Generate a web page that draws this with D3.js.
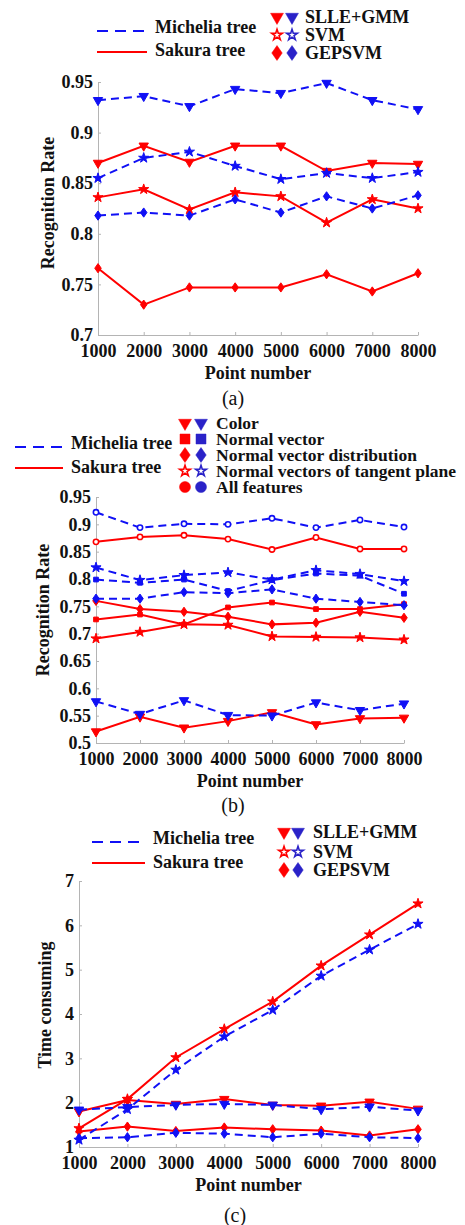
<!DOCTYPE html>
<html>
<head>
<meta charset="utf-8">
<script src="https://cdn.jsdelivr.net/npm/d3@7"></script>
<style>
  body { margin: 0; background: #fff; }
  text { font-family: "Liberation Serif", "Times New Roman", serif; }
</style>
</head>
<body>
<div id="chart"></div>
<script>
// point counts (x axis, same for all three panels)
var points = [1000, 2000, 3000, 4000, 5000, 6000, 7000, 8000];

// (a) recognition rate
var aMichSLLE = [0.932, 0.936, 0.926, 0.943, 0.939, 0.949, 0.932, 0.923];
var aSakSLLE  = [0.870, 0.887, 0.871, 0.887, 0.887, 0.862, 0.870, 0.869];
var aMichSVM  = [0.855, 0.875, 0.881, 0.867, 0.854, 0.860, 0.855, 0.861];
var aSakSVM   = [0.836, 0.844, 0.824, 0.841, 0.837, 0.811, 0.834, 0.825];
var aMichGEP  = [0.818, 0.821, 0.818, 0.834, 0.821, 0.837, 0.825, 0.838];
var aSakGEP   = [0.766, 0.730, 0.747, 0.747, 0.747, 0.760, 0.743, 0.761];
var aTicks = [0.7, 0.75, 0.8, 0.85, 0.9, 0.95];

// (b) recognition rate per feature
var bMichColor = [0.576, 0.553, 0.578, 0.551, 0.550, 0.574, 0.560, 0.572];
var bSakColor  = [0.521, 0.548, 0.528, 0.540, 0.556, 0.534, 0.545, 0.546];
var bMichNV    = [0.799, 0.793, 0.799, 0.778, 0.798, 0.810, 0.806, 0.773];
var bSakNV     = [0.726, 0.735, 0.717, 0.748, 0.757, 0.745, 0.745, 0.754];
var bMichNVD   = [0.764, 0.764, 0.776, 0.774, 0.781, 0.764, 0.758, 0.752];
var bSakNVD    = [0.760, 0.745, 0.740, 0.731, 0.717, 0.720, 0.740, 0.729];
var bMichNVTP  = [0.821, 0.798, 0.807, 0.812, 0.799, 0.816, 0.809, 0.796];
var bSakNVTP   = [0.691, 0.703, 0.717, 0.716, 0.695, 0.694, 0.693, 0.689];
var bMichAll   = [0.922, 0.894, 0.901, 0.900, 0.911, 0.894, 0.908, 0.895];
var bSakAll    = [0.868, 0.877, 0.880, 0.873, 0.854, 0.876, 0.855, 0.855];
var bTicks = [0.5, 0.55, 0.6, 0.65, 0.7, 0.75, 0.8, 0.85, 0.9, 0.95];

// (c) time consuming
var cMichSLLE = [1.84, 1.90, 1.95, 1.97, 1.95, 1.85, 1.91, 1.82];
var cSakSLLE  = [1.80, 2.06, 1.97, 2.08, 1.95, 1.93, 2.02, 1.86];
var cMichSVM  = [1.16, 1.85, 2.74, 3.49, 4.09, 4.86, 5.45, 6.03];
var cSakSVM   = [1.42, 2.08, 3.02, 3.66, 4.28, 5.09, 5.79, 6.49];
var cMichGEP  = [1.20, 1.22, 1.32, 1.30, 1.22, 1.30, 1.22, 1.20];
var cSakGEP   = [1.35, 1.46, 1.36, 1.44, 1.40, 1.37, 1.26, 1.40];
var cTicks = [1, 2, 3, 4, 5, 6, 7];

var methodNames = ["SLLE+GMM", "SVM", "GEPSVM"];
var featureNames = ["Color", "Normal vector", "Normal vector distribution",
  "Normal vectors of tangent plane", "All features"];
var treeNames = ["Michelia tree", "Sakura tree"];

var RED = "#ff0000", BLUE = "#1010f5", LBLUE = "#2a22c8";

var svg = d3.select("#chart").append("svg")
  .attr("width", 465)
  .attr("height", 1225);

var triDown = {
  draw: function(ctx, size) {
    var s = Math.sqrt(size / (Math.sqrt(3) / 4));
    var h = s * Math.sqrt(3) / 2;
    ctx.moveTo(-s / 2, -h / 3);
    ctx.lineTo(s / 2, -h / 3);
    ctx.lineTo(0, 2 * h / 3);
    ctx.closePath();
  }
};
// matlab style diamond, a bit wider than d3's
var diamond = {
  draw: function(ctx, size) {
    var h = Math.sqrt(size / 1.4);
    var w = h * 0.7;
    ctx.moveTo(0, -h);
    ctx.lineTo(w, 0);
    ctx.lineTo(0, h);
    ctx.lineTo(-w, 0);
    ctx.closePath();
  }
};
var shapes = {
  tri: triDown, star: d3.symbolStar, dia: diamond,
  sq: d3.symbolSquare, circ: d3.symbolCircle
};
var plotSize = { tri: 38, star: 32, dia: 30, sq: 22, circ: 22 };
var legSize = { tri: 72, star: 36, dia: 78, sq: 100, circ: 95 };

function drawPanel(cfg) {
  var x = d3.scaleLinear().domain([1000, 8000]).range([cfg.x0, cfg.x1]);
  var y = d3.scaleLinear().domain(cfg.yDomain).range([cfg.y0, cfg.y1]);
  var g = svg.append("g");

  var xAxis = g.append("g")
    .attr("transform", "translate(0," + cfg.y0 + ")")
    .call(d3.axisBottom(x).tickValues(points).tickSizeInner(-3).tickSizeOuter(0).tickPadding(4).tickFormat(d3.format("d")));
  var yAxis = g.append("g")
    .attr("transform", "translate(" + cfg.x0 + ",0)")
    .call(d3.axisLeft(y).tickValues(cfg.ticks).tickSizeInner(-3).tickSizeOuter(0).tickPadding(5).tickFormat(function(d) { return String(+d.toFixed(2)); }));
  [xAxis, yAxis].forEach(function(ax) {
    ax.select(".domain").attr("stroke", "#b4b4b4");
    ax.selectAll(".tick line").attr("stroke", "#b4b4b4");
    ax.selectAll("text")
      .attr("fill", "#111")
      .style("font-family", "Liberation Serif")
      .style("font-weight", "bold")
      .style("font-size", "18px");
  });
  xAxis.selectAll("text").attr("dy", "1em");

  var line = d3.line().x(function(d, i) { return x(points[i]); }).y(function(d) { return y(d); });

  cfg.series.forEach(function(s) {
    var col = s.tree === 0 ? BLUE : RED;
    g.append("path")
      .datum(s.values)
      .attr("d", line)
      .attr("fill", "none")
      .attr("stroke", col)
      .attr("stroke-width", 2)
      .attr("stroke-dasharray", s.tree === 0 ? "8,5" : null);
    g.selectAll(null)
      .data(s.values)
      .enter()
      .append("path")
      .attr("transform", function(d, i) { return "translate(" + x(points[i]) + "," + y(d) + ")"; })
      .attr("d", d3.symbol().type(shapes[s.mark]).size(plotSize[s.mark]))
      .attr("fill", s.mark === "circ" ? "#fff" : col)
      .attr("stroke", col)
      .attr("stroke-width", s.mark === "circ" ? 1.6 : 1);
  });

  // axis titles
  g.append("text")
    .attr("x", (cfg.x0 + cfg.x1) / 2)
    .attr("y", cfg.y0 + 44)
    .attr("text-anchor", "middle")
    .style("font-weight", "bold")
    .style("font-size", "18px")
    .attr("fill", "#111")
    .text("Point number");
  g.append("text")
    .attr("transform", "translate(" + cfg.ylabX + "," + cfg.ylabY + ") rotate(-90)")
    .attr("text-anchor", "middle")
    .attr("dy", "0.35em")
    .style("font-weight", "bold")
    .style("font-size", "18px")
    .attr("fill", "#111")
    .text(cfg.ylab);
  g.append("text")
    .attr("x", cfg.capX)
    .attr("y", cfg.capY)
    .attr("text-anchor", "middle")
    .style("font-size", "20px")
    .attr("fill", "#111")
    .text(cfg.caption);

  // legend: line styles
  var L = cfg.legend;
  [0, 1].forEach(function(t) {
    g.append("line")
      .attr("x1", L.lx0).attr("x2", L.lx1)
      .attr("y1", L.lineY[t]).attr("y2", L.lineY[t])
      .attr("stroke", t === 0 ? BLUE : RED)
      .attr("stroke-width", 2)
      .attr("stroke-dasharray", t === 0 ? "11,7" : null);
    g.append("text")
      .attr("x", L.tx).attr("y", L.textY[t])
      .attr("dy", "0.35em")
      .style("font-weight", "bold")
      .style("font-size", "18px")
      .attr("fill", "#111")
      .text(treeNames[t]);
  });
  // legend: marker styles
  L.names.forEach(function(name, i) {
    [RED, LBLUE].forEach(function(col, k) {
      var m = L.marks[i];
      g.append("path")
        .attr("transform", "translate(" + (k === 0 ? L.mx0 : L.mx1) + "," + L.rowY[i] + ")")
        .attr("d", d3.symbol().type(shapes[m]).size(legSize[m]))
        .attr("fill", m === "star" ? "#fff" : col)
        .attr("stroke", col)
        .attr("stroke-width", m === "star" ? 1.6 : 0.5);
    });
    g.append("text")
      .attr("x", L.mtx).attr("y", L.rowY[i])
      .attr("dy", "0.35em")
      .style("font-weight", "bold")
      .style("font-size", L.fs)
      .attr("fill", "#111")
      .text(name);
  });
}

drawPanel({
  x0: 98, x1: 418, y0: 335, y1: 82, yDomain: [0.7, 0.95], ticks: aTicks,
  ylab: "Recognition Rate", ylabX: 48, ylabY: 203,
  caption: "(a)", capX: 233, capY: 405,
  series: [
    { tree: 1, mark: "tri", values: aSakSLLE },
    { tree: 1, mark: "star", values: aSakSVM },
    { tree: 1, mark: "dia", values: aSakGEP },
    { tree: 0, mark: "tri", values: aMichSLLE },
    { tree: 0, mark: "star", values: aMichSVM },
    { tree: 0, mark: "dia", values: aMichGEP }
  ],
  legend: {
    lx0: 97, lx1: 147, lineY: [31, 52], tx: 155, textY: [27, 50],
    mx0: 277, mx1: 292, mtx: 305, rowY: [17, 35, 53], fs: "18px",
    names: methodNames, marks: ["tri", "star", "dia"]
  }
});

drawPanel({
  x0: 96, x1: 404, y0: 743, y1: 497, yDomain: [0.5, 0.95], ticks: bTicks,
  ylab: "Recognition Rate", ylabX: 43, ylabY: 610,
  caption: "(b)", capX: 233, capY: 812,
  series: [
    { tree: 1, mark: "tri", values: bSakColor },
    { tree: 1, mark: "sq", values: bSakNV },
    { tree: 1, mark: "dia", values: bSakNVD },
    { tree: 1, mark: "star", values: bSakNVTP },
    { tree: 1, mark: "circ", values: bSakAll },
    { tree: 0, mark: "tri", values: bMichColor },
    { tree: 0, mark: "sq", values: bMichNV },
    { tree: 0, mark: "dia", values: bMichNVD },
    { tree: 0, mark: "star", values: bMichNVTP },
    { tree: 0, mark: "circ", values: bMichAll }
  ],
  legend: {
    lx0: 15, lx1: 63, lineY: [447, 468], tx: 71, textY: [443, 467],
    mx0: 185, mx1: 201, mtx: 216, rowY: [423, 439, 455, 471, 487], fs: "17.5px",
    names: featureNames, marks: ["tri", "sq", "dia", "star", "circ"]
  }
});

drawPanel({
  x0: 79, x1: 418, y0: 1147, y1: 881, yDomain: [1, 7], ticks: cTicks,
  ylab: "Time consuming", ylabX: 45, ylabY: 1005,
  caption: "(c)", capX: 235, capY: 1222,
  series: [
    { tree: 1, mark: "tri", values: cSakSLLE },
    { tree: 1, mark: "star", values: cSakSVM },
    { tree: 1, mark: "dia", values: cSakGEP },
    { tree: 0, mark: "tri", values: cMichSLLE },
    { tree: 0, mark: "star", values: cMichSVM },
    { tree: 0, mark: "dia", values: cMichGEP }
  ],
  legend: {
    lx0: 92, lx1: 145, lineY: [842, 863], tx: 153, textY: [838, 862],
    mx0: 284, mx1: 298, mtx: 313, rowY: [832, 852, 870], fs: "18px",
    names: methodNames, marks: ["tri", "star", "dia"]
  }
});
</script>
</body>
</html>
